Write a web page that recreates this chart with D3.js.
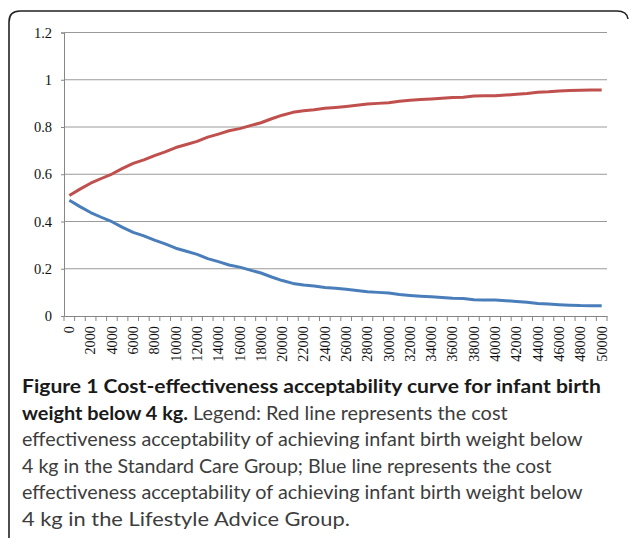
<!DOCTYPE html>
<html>
<head>
<meta charset="utf-8">
<script src="https://cdn.jsdelivr.net/npm/d3@7"></script>
<style>
  body { margin: 0; background: #fff; }
  svg { display: block; }
</style>
</head>
<body>
<div id="main"></div>
<script>
  // cost thresholds (categories on the x axis)
  var thresholds = [0,1000,2000,3000,4000,5000,6000,7000,8000,9000,10000,
    11000,12000,13000,14000,15000,16000,17000,18000,19000,20000,
    21000,22000,23000,24000,25000,26000,27000,28000,29000,30000,
    31000,32000,33000,34000,35000,36000,37000,38000,39000,40000,
    41000,42000,43000,44000,45000,46000,47000,48000,49000,50000];

  // Standard Care Group (red)
  var standardCare = [0.510,0.537,0.562,0.582,0.601,0.625,0.646,0.661,0.679,0.695,0.713,
    0.726,0.739,0.757,0.770,0.784,0.793,0.806,0.818,0.835,0.850,
    0.862,0.869,0.873,0.879,0.883,0.887,0.892,0.897,0.900,0.903,
    0.909,0.913,0.916,0.919,0.922,0.925,0.926,0.931,0.932,0.932,
    0.935,0.939,0.942,0.947,0.949,0.952,0.954,0.956,0.957,0.957];

  // Lifestyle Advice Group (blue)
  var lifestyleAdvice = [0.490,0.463,0.438,0.418,0.399,0.375,0.354,0.339,0.321,0.305,0.287,
    0.274,0.261,0.243,0.230,0.216,0.207,0.194,0.182,0.165,0.150,
    0.138,0.131,0.127,0.121,0.117,0.113,0.108,0.103,0.100,0.097,
    0.091,0.087,0.084,0.081,0.078,0.075,0.074,0.069,0.068,0.068,
    0.065,0.061,0.058,0.053,0.051,0.048,0.046,0.044,0.043,0.043];

  var xLabels = [0,2000,4000,6000,8000,10000,12000,14000,16000,18000,20000,
    22000,24000,26000,28000,30000,32000,34000,36000,38000,40000,
    42000,44000,46000,48000,50000];
  var yTicks = [0, 0.2, 0.4, 0.6, 0.8, 1, 1.2];

  var captionLines = [
    [["Figure 1 Cost-effectiveness acceptability curve for infant birth", true]],
    [["weight below 4 kg.", true], [" Legend: Red line represents the cost", false]],
    [["effectiveness acceptability of achieving infant birth weight below", false]],
    [["4 kg in the Standard Care Group; Blue line represents the cost", false]],
    [["effectiveness acceptability of achieving infant birth weight below", false]],
    [["4 kg in the Lifestyle Advice Group.", false]]
  ];
  var captionEnds = [601, 508, 583, 552, 583, 350];

  var W = 629, H = 538;
  var plotL = 64, plotR = 607, plotT = 32.5, plotB = 316;

  var svg = d3.select("#main").append("svg")
      .attr("width", W)
      .attr("height", H);

  // frame round the figure
  svg.append("path")
      .attr("d", "M9,540 V22 Q9,11 20,11 H617 Q627,11 628,19")
      .attr("fill", "none")
      .attr("stroke", "#222")
      .attr("stroke-width", 1.6);

  var x = d3.scaleBand().domain(thresholds).range([plotL, plotR]).padding(0);
  var xi = d3.scaleLinear().domain([0, thresholds.length]).range([plotL, plotR]);
  var y = d3.scaleLinear().domain([0, 1.2]).range([plotB, plotT]);

  // gridlines
  svg.append("g").selectAll("line")
      .data(yTicks.slice(1))
      .join("line")
      .attr("x1", plotL).attr("x2", plotR)
      .attr("y1", d => y(d)).attr("y2", d => y(d))
      .attr("stroke", "#9a9a9a")
      .attr("stroke-width", 1);

  // y axis
  var yAxis = svg.append("g")
      .attr("transform", "translate(" + plotL + ",0)")
      .call(d3.axisLeft(y).tickValues(yTicks).tickSize(3).tickPadding(9)
        .tickFormat(d => String(d)));
  yAxis.select(".domain").attr("stroke", "#868686");
  yAxis.selectAll(".tick line").attr("stroke", "#868686");
  yAxis.selectAll("text")
      .attr("font-family", "'Liberation Serif', serif")
      .attr("font-size", 14.5)
      .attr("fill", "#111");

  // x axis: labels at every other category, ticks at category boundaries
  var xAxis = svg.append("g")
      .attr("transform", "translate(0," + plotB + ")")
      .call(d3.axisBottom(x).tickValues(xLabels).tickSize(0).tickPadding(0));
  xAxis.select(".domain").attr("stroke", "#868686");
  xAxis.selectAll("text")
      .attr("font-family", "'Liberation Serif', serif")
      .attr("font-size", 14.3)
      .attr("fill", "#111")
      .attr("text-anchor", "end")
      .attr("transform", "rotate(-90)")
      .attr("x", -10)
      .attr("y", 0)
      .attr("dy", "0.34em");

  svg.append("g").selectAll("line")
      .data(d3.range(thresholds.length + 1))
      .join("line")
      .attr("x1", d => xi(d)).attr("x2", d => xi(d))
      .attr("y1", plotB).attr("y2", plotB + 5)
      .attr("stroke", "#868686");

  var curve = d3.line()
      .x((d, i) => x(thresholds[i]) + x.bandwidth() / 2)
      .y(d => y(d));

  svg.append("path")
      .datum(standardCare)
      .attr("d", curve)
      .attr("fill", "none")
      .attr("stroke", "#c0504d")
      .attr("stroke-width", 3)
      .attr("stroke-linejoin", "round");

  svg.append("path")
      .datum(lifestyleAdvice)
      .attr("d", curve)
      .attr("fill", "none")
      .attr("stroke", "#4a7ebb")
      .attr("stroke-width", 3)
      .attr("stroke-linejoin", "round");

  // caption
  var cap = svg.append("g");
  captionLines.forEach(function(parts, k) {
    var t = cap.append("text")
        .attr("x", 0)
        .attr("y", 0)
        .attr("font-family", "Lato, 'Noto Sans', sans-serif")
        .attr("font-size", 19.5);
    parts.forEach(function(p) {
      t.append("tspan")
          .attr("font-weight", p[1] ? "bold" : "normal")
          .attr("fill", p[1] ? "#1a1a1a" : "#3d3d3d")
          .text(p[0]);
    });
    var w = t.node().getComputedTextLength();
    var sx = (captionEnds[k] - 22) / w;
    t.attr("transform", "translate(22," + (393 + k * 26.6) + ") scale(" + sx + ",1)");
  });
</script>
</body>
</html>
